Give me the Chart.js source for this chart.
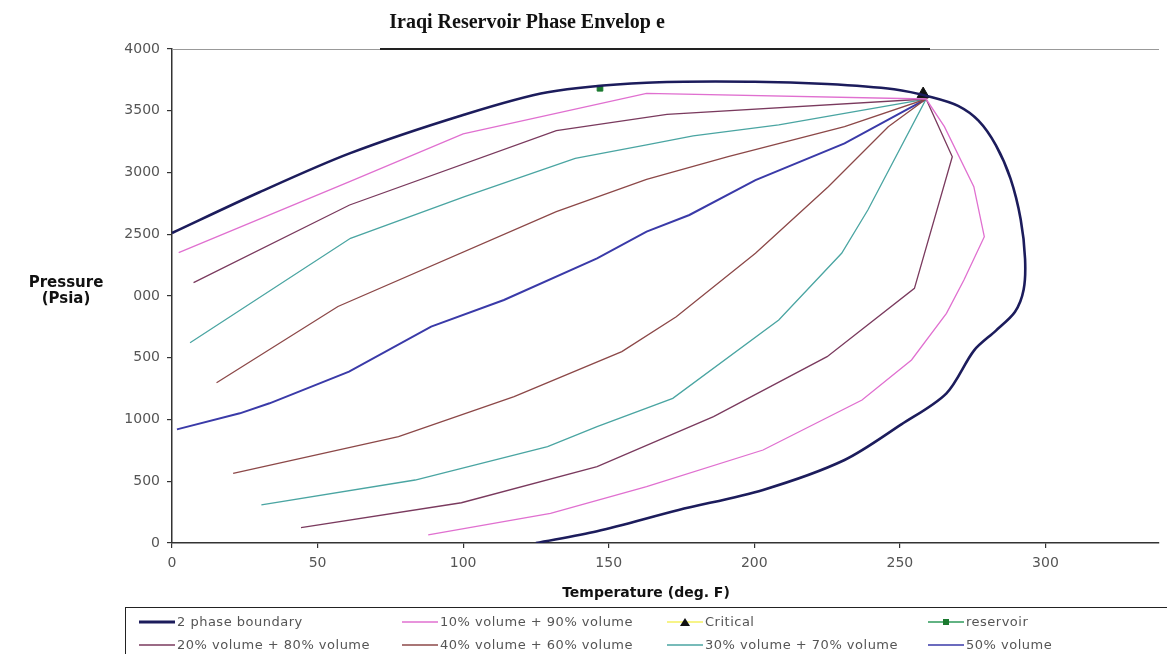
<!DOCTYPE html>
<html>
<head>
<meta charset="utf-8">
<title>Iraqi Reservoir Phase Envelope</title>
<script src="https://cdn.jsdelivr.net/npm/chart.js@4.4.1/dist/chart.umd.min.js"></script>
<style>
  html, body { margin: 0; padding: 0; background: #fff; overflow: hidden; }
  #wrap { position: relative; width: 1167px; height: 654px; overflow: hidden; }
  #envelope { position: absolute; left: 0; top: 0; }
  #legend {
    position: absolute; left: 125px; top: 607px; width: 1100px; height: 70px;
    border: 1px solid #222; box-sizing: border-box;
    display: grid; grid-template-columns: 263px 265px 261px 263px; grid-auto-rows: 23px;
    padding: 2px 0 0 13px; align-items: center;
    font: 13px "DejaVu Sans", sans-serif; letter-spacing: 0.5px; color: #555;
  }
  #legend .item { display: flex; align-items: center; white-space: nowrap; }
  #legend svg { margin-right: 2px; }
</style>
</head>
<body>
<div id="wrap">
  <canvas id="envelope" width="1167" height="654"></canvas>
  <div id="legend"></div>
</div>
<script>
// temperature (deg F), pressure (psia) pairs for each curve
const boundary = [
  [0, 2510], [30, 2840], [61, 3155], [100, 3466], [129, 3650], [163, 3727], [200, 3735],
  [225, 3717], [248, 3674], [261, 3610], [270, 3540], [277, 3420], [283, 3220], [288, 2950],
  [291.5, 2620], [293, 2300], [292.5, 2050], [289.5, 1870], [283, 1720], [275.5, 1560],
  [266, 1212], [250.5, 960], [231, 672], [203, 430], [174, 267], [146, 95], [125, 0]
];
const vol10_90 = [
  [2.3, 2351], [61, 2926], [100, 3312], [163, 3641], [259, 3595], [265.3, 3371], [275.4, 2885],
  [279, 2480], [272, 2130], [266, 1860], [254, 1482], [237, 1158], [203, 753], [163, 456],
  [130, 240], [88, 65]
];
const vol20_80 = [
  [7.4, 2108], [61, 2737], [132, 3339], [170, 3470], [259, 3595], [268, 3128], [255, 2062],
  [225, 1509], [186, 1023], [146, 618], [99.4, 326], [44.3, 124]
];
const vol30_70 = [
  [6.2, 1622], [61.3, 2467], [100.5, 2804], [138.5, 3115], [163, 3223], [179, 3296],
  [208.4, 3385], [259, 3595], [239, 2696], [230, 2346], [208.4, 1806], [172, 1171],
  [146, 942], [129, 780], [83.5, 510], [30.7, 308]
];
const vol40_60 = [
  [15.3, 1298], [57, 1915], [132, 2683], [163, 2945], [191, 3128], [231, 3371], [259, 3595],
  [246, 3371], [225.4, 2885], [200.4, 2346], [173.2, 1832], [154.5, 1550], [117.5, 1185],
  [77.8, 861], [21, 564]
];
const vol50 = [
  [1.7, 920], [23.3, 1050], [33.5, 1131], [60.8, 1387], [89, 1752], [114, 1968], [146, 2305],
  [163, 2521], [177.7, 2656], [200.4, 2939], [231, 3236], [259, 3595]
];
const critical = [[258, 3635]];
const reservoir = [[147, 3682]];

const xTicks = [0, 50, 100, 150, 200, 250, 300];
const yTickLabels = ['0', '500', '1000', '500', '000', '2500', '3000', '3500', '4000'];

const toXY = pts => pts.map(p => ({ x: p[0], y: p[1] }));

function lineSet(label, pts, color, width, tension) {
  return {
    label, data: toXY(pts), showLine: true, borderColor: color, backgroundColor: color,
    borderWidth: width, pointRadius: 0, tension: tension || 0
  };
}

const datasets = [
  lineSet('2 phase boundary', boundary, '#1c1c5c', 2.6, 0.3),
  lineSet('10% volume + 90% volume', vol10_90, '#e070d0', 1.3),
  {
    label: 'Critical', data: toXY(critical), showLine: false, borderColor: '#f4f060',
    pointStyle: 'triangle', pointRadius: 7, pointBackgroundColor: '#111', pointBorderColor: '#111'
  },
  {
    label: 'reservoir', data: toXY(reservoir), showLine: false, borderColor: '#2e9a5a',
    pointStyle: 'rect', pointRadius: 4, pointBackgroundColor: '#1b7a30', pointBorderColor: '#1b7a30'
  },
  lineSet('20% volume + 80% volume', vol20_80, '#7a3a5e', 1.3),
  lineSet('40% volume + 60% volume', vol40_60, '#8c4848', 1.3),
  lineSet('30% volume + 70% volume', vol30_70, '#4aa5a2', 1.3),
  lineSet('50% volume', vol50, '#3a3aa8', 2)
];

// titles and the frame line along the top of the plot
const framePlugin = {
  id: 'frame',
  afterDraw(chart) {
    const { ctx, chartArea } = chart;
    ctx.save();
    ctx.strokeStyle = '#999';
    ctx.lineWidth = 1;
    ctx.beginPath();
    ctx.moveTo(chartArea.left, chartArea.top + 0.5);
    ctx.lineTo(chartArea.right, chartArea.top + 0.5);
    ctx.stroke();
    ctx.strokeStyle = '#222';
    ctx.lineWidth = 2;
    ctx.beginPath();
    ctx.moveTo(380, chartArea.top);
    ctx.lineTo(930, chartArea.top);
    ctx.stroke();

    ctx.fillStyle = '#111';
    ctx.textAlign = 'center';
    ctx.textBaseline = 'middle';
    ctx.font = 'bold 20px "Liberation Serif", serif';
    ctx.fillText('Iraqi Reservoir Phase Envelop e', 527, 23);

    ctx.font = 'bold 15px "DejaVu Sans", sans-serif';
    ctx.fillText('Pressure', 66, 283);
    ctx.fillText('(Psia)', 66, 299);

    ctx.font = 'bold 14px "DejaVu Sans", sans-serif';
    ctx.fillText('Temperature (deg. F)', 646, 593);
    ctx.restore();
  }
};

const tickFont = { family: 'DejaVu Sans', size: 14 };

const ctx = document.getElementById('envelope').getContext('2d');
const chart = new Chart(ctx, {
  type: 'scatter',
  data: { datasets },
  options: {
    responsive: false,
    animation: false,
    layout: { padding: { top: 49, bottom: 51, left: 0, right: 0 } },
    plugins: { legend: { display: false }, tooltip: { enabled: false }, title: { display: false } },
    scales: {
      x: {
        type: 'linear', min: 0, max: 339,
        afterBuildTicks: s => { s.ticks = xTicks.map(v => ({ value: v })); },
        afterFit: s => { s.height = 60; },
        ticks: { padding: 7, color: '#555', font: tickFont },
        grid: { drawOnChartArea: false, tickLength: 5, color: '#333', lineWidth: 1.2 },
        border: { color: '#333', width: 1.5 }
      },
      y: {
        min: 0, max: 4000,
        afterFit: s => { s.width = 172; },
        ticks: {
          stepSize: 500, padding: 7, color: '#555', font: tickFont,
          callback: v => yTickLabels[v / 500]
        },
        grid: { drawOnChartArea: false, tickLength: 5, color: '#333', lineWidth: 1.2 },
        border: { color: '#333', width: 1.5 }
      }
    }
  },
  plugins: [framePlugin]
});

// legend built from the datasets: short line swatch with the marker, then the label
function swatch(ds) {
  let mark = '';
  if (ds.pointStyle === 'triangle') {
    mark = '<polygon points="18,1 23,9 13,9" fill="' + ds.pointBackgroundColor + '"/>';
  } else if (ds.pointStyle === 'rect') {
    mark = '<rect x="15" y="2" width="6" height="6" fill="' + ds.pointBackgroundColor + '"/>';
  }
  const w = ds.label === '2 phase boundary' ? 3 : 1.5;
  return '<svg width="36" height="10"><line x1="0" y1="5" x2="36" y2="5" stroke="' +
    ds.borderColor + '" stroke-width="' + w + '"/>' + mark + '</svg>';
}
const legend = document.getElementById('legend');
chart.data.datasets.forEach(ds => {
  const item = document.createElement('div');
  item.className = 'item';
  item.innerHTML = swatch(ds) + '<span>' + ds.label + '</span>';
  legend.appendChild(item);
});
</script>
</body>
</html>
